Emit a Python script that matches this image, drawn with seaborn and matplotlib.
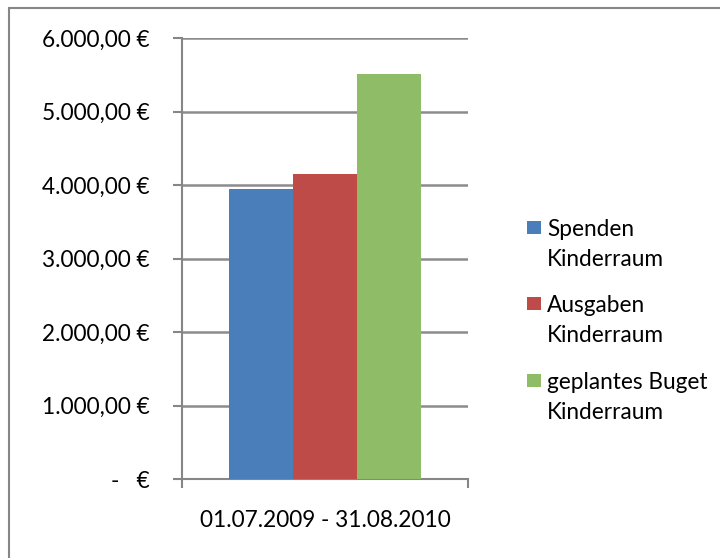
import matplotlib
matplotlib.use("Agg")
import matplotlib.pyplot as plt
import seaborn as sns
import pandas as pd
from matplotlib.patches import Rectangle
from matplotlib.ticker import FixedLocator

categories = ["01.07.2009 - 31.08.2010"]
series = ["Spenden\nKinderraum", "Ausgaben\nKinderraum", "geplantes Buget\nKinderraum"]
values = [3950, 4155, 5515]
colors = ["#4a7ebb", "#be4b48", "#8fbc67"]
yticks = [0, 1000, 2000, 3000, 4000, 5000, 6000]
ytick_labels = ["-   €", "1.000,00 €", "2.000,00 €", "3.000,00 €", "4.000,00 €", "5.000,00 €", "6.000,00 €"]

df = pd.DataFrame({"period": categories * len(series), "series": series, "value": values})

sns.set_style("white")
plt.rcParams["font.family"] = ["Lato", "DejaVu Sans"]
FS = 16.3
W, H = 720, 558
fig = plt.figure(figsize=(W / 100, H / 100), dpi=100)
ax = fig.add_axes([182 / W, 1 - 479.3 / H, (468 - 182) / W, (479.3 - 38.3) / H])

sns.barplot(data=df, x="period", y="value", hue="series", palette=colors,
            width=0.674, ax=ax, legend=False, saturation=1, zorder=3)
for p in ax.patches:
    p.set_edgecolor("none")

ax.set_xlim(-0.5, 0.5)
ax.set_ylim(0, 6000)
ax.set_yticks(yticks)
ax.set_yticklabels(ytick_labels, fontsize=FS, color="black")
ax.set_xticks([0])
ax.set_xticklabels(categories, fontsize=FS, color="black")
ax.xaxis.set_minor_locator(FixedLocator([-0.5, 0.5]))
ax.tick_params(axis="x", which="major", length=0, pad=22)
ax.tick_params(axis="x", which="minor", length=6.5, width=1.5, color="#868686", direction="out", bottom=True)
ax.tick_params(axis="y", which="major", length=6.5, width=1.5, color="#868686", direction="out", left=True, pad=17)
ax.set_xlabel("")
ax.set_ylabel("")

ax.yaxis.grid(True, color="#8c8c8c", linewidth=1.8, zorder=0)
ax.set_axisbelow(True)
for s in ["top", "right"]:
    ax.spines[s].set_visible(False)
for s in ["left", "bottom"]:
    ax.spines[s].set_color("#868686")
    ax.spines[s].set_linewidth(1.5)

# legend (drawn manually to match Excel layout)
for i, (lab, c) in enumerate(zip(series, colors)):
    top = 220.7 + i * 76.7
    fig.patches.append(Rectangle((527 / W, 1 - (top + 13) / H), 14 / W, 13 / H,
                                 transform=fig.transFigure, facecolor=c, edgecolor="none"))
    fig.text(547 / W, 1 - (top - 2) / H, lab, fontsize=FS, va="top", ha="left",
             linespacing=1.52, color="black")

fig.patches.append(Rectangle((8.5 / W, -0.1), 1.2, (1 - 8.5 / H) + 0.1, transform=fig.transFigure,
                             fill=False, edgecolor="#868686", linewidth=1.5, zorder=10))

fig.savefig("out.png", dpi=100)
